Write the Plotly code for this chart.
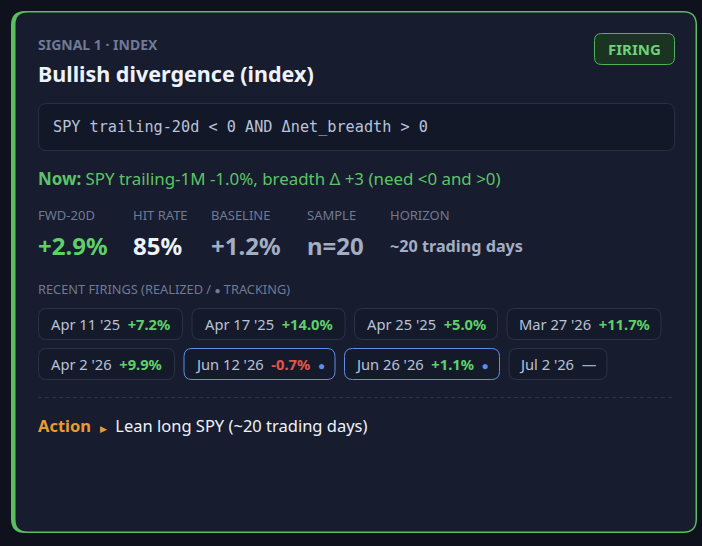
import plotly.graph_objects as go

W, H = 702, 546

# ---------------- data ----------------
signal_label = "SIGNAL 1 · INDEX"
title = "Bullish divergence (index)"
status = "FIRING"
condition = "SPY trailing-20d &lt; 0 AND Δnet_breadth &gt; 0"
now_text = "SPY trailing-1M -1.0%, breadth Δ +3 (need &lt;0 and &gt;0)"

metric_labels = ["FWD-20D", "HIT RATE", "BASELINE", "SAMPLE", "HORIZON"]
metric_values = ["+2.9%", "85%", "+1.2%", "n=20", "~20 trading days"]
metric_kinds = ["pos", "white", "grey", "grey", "text"]

firing_dates = ["Apr 11 '25", "Apr 17 '25", "Apr 25 '25", "Mar 27 '26",
                "Apr 2 '26", "Jun 12 '26", "Jun 26 '26", "Jul 2 '26"]
firing_returns = [7.2, 14.0, 5.0, 11.7, 9.9, -0.7, 1.1, None]
firing_tracking = [False, False, False, False, False, True, True, False]

action_text = "Lean long SPY (~20 trading days)"

# ---------------- styles / layout ----------------
BG = "#0f121d"
CARD = "#171c2e"
GREEN_B = "#5bbf5f"
LABEL = "#6f7a94"
WHITE = "#eef2fb"
GREEN_T = "#5cc466"
GREEN_V = "#5fcf6a"
GREY_V = "#a3adc4"
CHIP_FILL = "#151a2b"
CHIP_B = "#2b3349"
BLUE = "#5e8fe8"
RED = "#e5534b"
ORANGE = "#e89b32"
DATE_C = "#b8c2d8"
FONT = "Noto Sans"
MONO = "DejaVu Sans Mono"

metric_x = [38, 133, 211, 307, 390]
chip_w = [145, 154, 144, 155, 137, 152, 156, 99]
chip_h = 31
chip_gap = 8.5
row_gap = 9
content_x0, content_x1 = 38, 674
PAD = 2  # annotation inner padding compensation


def rr(x0, y0, x1, y1, r):
    return (f"M{x0+r},{y0} L{x1-r},{y0} Q{x1},{y0} {x1},{y0+r} "
            f"L{x1},{y1-r} Q{x1},{y1} {x1-r},{y1} L{x0+r},{y1} "
            f"Q{x0},{y1} {x0},{y1-r} L{x0},{y0+r} Q{x0},{y0} {x0+r},{y0} Z")


shapes = []
ann = []


def text(x, y, s, size, color, family=FONT, xanchor="left"):
    if xanchor == "left":
        x -= PAD
    ann.append(dict(x=x, y=y, text=s, showarrow=False, xanchor=xanchor,
                    yanchor="middle", font=dict(size=size, color=color, family=family)))


# card
shapes.append(dict(type="path", path=rr(11, 11, 697, 533, 14), fillcolor=GREEN_B,
                   line=dict(width=0), layer="below"))
shapes.append(dict(type="path", path=rr(15.5, 12.5, 695.5, 531.5, 12), fillcolor=CARD,
                   line=dict(width=0), layer="below"))

# header
text(38, 44, f"<b>{signal_label}</b>", 14, LABEL)
text(38, 73, f"<b>{title}</b>", 21.5, WHITE)

# badge
shapes.append(dict(type="path", path=rr(594.5, 33.5, 674.5, 64.5, 7), fillcolor="#1b3322",
                   line=dict(color="#4fb356", width=1)))
text(634.5, 49, f"<b>{status}</b>", 15, "#6fd07a", xanchor="center")

# condition box
shapes.append(dict(type="path", path=rr(38.5, 103.5, 674.5, 150.5, 8), fillcolor="#131828",
                   line=dict(color="#283046", width=1)))
text(53, 127, condition, 15.2, "#b9c3d9", family=MONO)

# now line
text(38, 178, f"<b>Now:</b> {now_text}", 16.9, GREEN_T)

# metrics
val_color = {"pos": GREEN_V, "white": WHITE, "grey": GREY_V, "text": GREY_V}
for lx, lab, val, kind in zip(metric_x, metric_labels, metric_values, metric_kinds):
    text(lx, 215, lab, 13, LABEL)
    if kind == "text":
        text(lx, 246, f"<b>{val}</b>", 16.2, GREY_V)
    else:
        text(lx, 245, f"<b>{val}</b>", 24, val_color[kind])

text(38, 289, "RECENT FIRINGS (REALIZED / <span style='font-size:10px'>●</span> TRACKING)", 12.8, LABEL)

# chips (flow layout)
cx, cy = content_x0, 308
for d, r, trk, w in zip(firing_dates, firing_returns, firing_tracking, chip_w):
    if cx + w > content_x1 + 1:
        cx = content_x0
        cy += chip_h + row_gap
    shapes.append(dict(type="path", path=rr(cx + 0.5, cy + 0.5, cx + w - 0.5, cy + chip_h + 0.5, 8),
                       fillcolor=CHIP_FILL, line=dict(color=BLUE if trk else CHIP_B, width=1)))
    if r is None:
        rs = f"<span style='color:{GREY_V}'>—</span>"
    else:
        col = GREEN_V if r >= 0 else RED
        rs = f"<b><span style='color:{col}'>{r:+.1f}%</span></b>"
    dot = f"\u00a0\u00a0<span style='color:{BLUE};font-size:12px'>●</span>" if trk else ""
    text(cx + w / 2, cy + chip_h / 2 + 0.5, f"{d}\u00a0\u00a0{rs}{dot}", 14.7, DATE_C, xanchor="center")
    cx += w + chip_gap

# dashed divider
shapes.append(dict(type="line", x0=38, x1=674, y0=397.5, y1=397.5,
                   line=dict(color="#2b3349", width=1, dash="4px,3px")))

# action
text(38, 425, f"<b><span style='color:{ORANGE}'>Action</span></b>\u00a0\u00a0"
     f"<span style='color:{ORANGE};font-size:9px'>▶</span>\u00a0\u00a0{action_text}", 16.5, WHITE)

fig = go.Figure()
fig.update_layout(
    width=W, height=H, autosize=False,
    margin=dict(l=0, r=0, t=0, b=0),
    paper_bgcolor=BG, plot_bgcolor=BG,
    xaxis=dict(range=[0, W], visible=False, fixedrange=True),
    yaxis=dict(range=[H, 0], visible=False, fixedrange=True),
    shapes=shapes, annotations=ann, showlegend=False,
)
fig.write_html("out.html", config={"displayModeBar": False},
               post_script="document.body.style.margin='0';document.body.style.overflow='hidden';"
                           "document.body.style.background='" + BG + "';")
